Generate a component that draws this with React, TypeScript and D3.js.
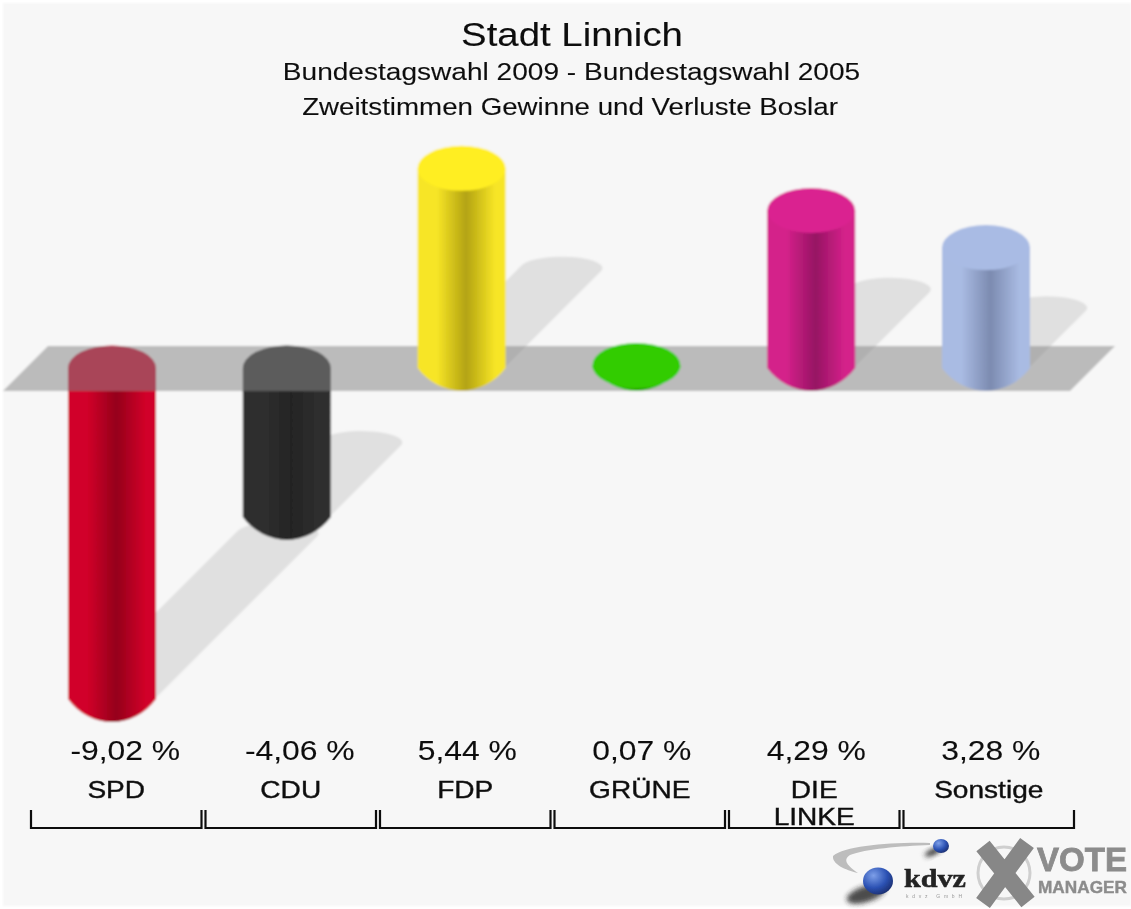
import React from 'react'
import * as d3 from 'd3'

const parties = ['SPD', 'CDU', 'FDP', 'GRÜNE', 'DIE LINKE', 'Sonstige']
const values = [-9.02, -4.06, 5.44, 0.07, 4.29, 3.28]
const valueLabels = ['-9,02 %', '-4,06 %', '5,44 %', '0,07 %', '4,29 %', '3,28 %']
const edgeColors = ['#d10029', '#2f2f2f', '#f7e526', '#33cc00', '#d4218a', '#a9bbe3']
const darkColors = ['#95001b', '#242424', '#b3a312', '#2ba800', '#961463', '#7c8bb0']
const capColors = ['#d10029', '#2f2f2f', '#ffee22', '#33cc00', '#da2490', '#a9bbe4']

const width = 1131
const height = 909
const rx = 44
const ry = 22.5
const font = '"Liberation Sans", Arial, sans-serif'

const band = d3.scaleBand<string>().domain(parties).range([29, 1076])
const barX = d3.scalePoint<string>().domain(parties).range([112, 986])
const y = d3.scaleLinear().domain([0, 1]).range([368, 331.3])
const plateTop = 346
const plateBottom = 391
const plateSkew = 45
const labelX = (p: string) => (band(p) as number) + band.bandwidth() / 2

// the reference squeezes its text vertically, so widen it instead
const Wide = ({ x, yy, size, sx = 1.17, bold, children }: any) => (
  <text
    transform={`translate(${x},${yy}) scale(${sx},1)`}
    fontSize={size}
    stroke="#111"
    strokeWidth={bold ? 0.4 : 0.1}
  >
    {children}
  </text>
)

// shadow falls up and to the right, half as long as the bar
const shadowPath = (x: number, v: number) => {
  const end = y(v)
  const base = Math.max(end, y(0))
  const h = Math.abs(end - y(0))
  const sx = 41
  const sy = 11.5
  const t = Math.atan(sy / sx)
  const px = sx * Math.cos(t)
  const py = sy * Math.sin(t)
  const c = [x + h / 2, base - h / 2]
  return `M${x + px},${base + py}L${c[0] + px},${c[1] + py}A${sx},${sy} 0 1 0 ${c[0] - px},${c[1] - py}L${x - px},${base - py}A${sx},${sy} 0 1 0 ${x + px},${base + py}Z`
}

const Bar = ({ i }: { i: number }) => {
  const p = parties[i]
  const x = barX(p) as number
  const v = values[i]
  const end = y(v)
  // lower edge is a flatter arc than the cap, it meets the sides at a corner
  const under = `A56,60 0 0 1 ${x - rx}`
  if (v < 0) {
    return (
      <g>
        <path
          d={`M${x - rx},${y(0)}A${rx},${ry} 0 0 1 ${x + rx},${y(0)}V${plateBottom + 1}H${x - rx}Z`}
          fill={capColors[i]}
        />
        <path
          d={`M${x - rx},${plateBottom}H${x + rx}V${end}${under},${end}Z`}
          fill={`url(#grad${i})`}
        />
      </g>
    )
  }
  return (
    <g>
      <path
        d={`M${x - rx},${end}H${x + rx}V${y(0)}${under},${y(0)}Z`}
        fill={`url(#grad${i})`}
      />
      <ellipse cx={x} cy={end} rx={rx} ry={ry} fill={capColors[i]} />
    </g>
  )
}

const Logos = () => (
  <g>
    <path d="M930,843C890,842 845,846 833,856C832,864 845,870 858,873C848,866 842,860 850,855C865,849 900,846 930,845Z" fill="#bdbdbd" />
    <ellipse cx="866" cy="894" rx="20" ry="8" fill="#222" opacity="0.8" filter="url(#softer)" transform="rotate(-18 866 894)" />
    <ellipse cx="878" cy="881" rx="15" ry="13.5" fill="url(#ball)" />
    <ellipse cx="933" cy="852" rx="9" ry="3" fill="#333" filter="url(#softer)" transform="rotate(-25 933 852)" />
    <ellipse cx="941" cy="846" rx="8" ry="7" fill="url(#ball)" />
    <text x="904" y="887" fontFamily='"Liberation Serif", serif' fontWeight="bold" fontSize="25" fill="#222" stroke="#222" strokeWidth="0.5" textLength="62" lengthAdjust="spacingAndGlyphs">kdvz</text>
    <text x="906" y="898" fontFamily={font} fontSize="5" fill="#999" textLength="56">kdvz GmbH</text>
    <circle cx="1004" cy="873" r="26" fill="none" stroke="#cfcfcf" strokeWidth="3" />
    <path d="M983,846L1028,902M1027,843L983,903" stroke="#878787" strokeWidth="17" fill="none" />
    <text x="1037" y="871" fontFamily={font} fontWeight="bold" fontSize="33" fill="#8c8c8c" stroke="#8c8c8c" strokeWidth="0.8" textLength="90" lengthAdjust="spacingAndGlyphs">VOTE</text>
    <text x="1038" y="893" fontFamily={font} fontWeight="bold" fontSize="17" fill="#8c8c8c" stroke="#8c8c8c" strokeWidth="0.4" textLength="89" lengthAdjust="spacingAndGlyphs">MANAGER</text>
  </g>
)

export default function App() {
  const order = values.map((_, i) => i)
  return (
    <svg width={width} height={height} style={{ position: 'absolute', left: 0, top: 0, background: '#fff' }}>
      <defs>
        {parties.map((p, i) => (
          <linearGradient id={`grad${i}`} key={p} x1="0" x2="1" y1="0" y2="0">
            <stop offset="0" stopColor={edgeColors[i]} />
            <stop offset="0.22" stopColor={edgeColors[i]} />
            <stop offset="0.55" stopColor={darkColors[i]} />
            <stop offset="0.88" stopColor={edgeColors[i]} />
            <stop offset="1" stopColor={edgeColors[i]} />
          </linearGradient>
        ))}
        <radialGradient id="ball" cx="0.35" cy="0.3" r="0.75">
          <stop offset="0" stopColor="#7d9fe8" />
          <stop offset="0.6" stopColor="#2c52b4" />
          <stop offset="1" stopColor="#1c2f70" />
        </radialGradient>
        <filter id="soft" x="0" y="0" width={width} height={height} filterUnits="userSpaceOnUse">
          <feGaussianBlur stdDeviation="0.85" />
        </filter>
        <filter id="softText" x="0" y="0" width={width} height={height} filterUnits="userSpaceOnUse">
          <feGaussianBlur stdDeviation="0.6" />
        </filter>
        <filter id="softer" x="-30%" y="-60%" width="160%" height="220%">
          <feGaussianBlur stdDeviation="2.5" />
        </filter>
      </defs>
      <g filter="url(#soft)">
        <rect x={3} y={3} width={width - 3} height={height - 6} fill="#f7f7f7" />
        {order.map((i) => (
          <path key={i} d={shadowPath(barX(parties[i]) as number, values[i])} fill="#e0e0e0" />
        ))}
        {order.filter((i) => values[i] < 0).map((i) => <Bar key={i} i={i} />)}
        <path
          d={`M${3 + plateSkew},${plateTop}H1115L${1115 - plateSkew},${plateBottom}H3Z`}
          fill="#848484"
          opacity={0.52}
        />
        {order.filter((i) => values[i] >= 0).map((i) => <Bar key={i} i={i} />)}
      </g>

      <g filter="url(#softText)">
        <g fontFamily={font} textAnchor="middle" fill="#111">
          <Wide x={572} yy={46} size={33} sx={1.163}>Stadt Linnich</Wide>
          <Wide x={571.5} yy={80} size={24}>Bundestagswahl 2009 - Bundestagswahl 2005</Wide>
          <Wide x={570} yy={115} size={24} sx={1.155}>Zweitstimmen Gewinne und Verluste Boslar</Wide>
          {parties.map((p, i) => {
            const c = labelX(p)
            const lines = p.split(' ')
            return (
              <g key={p}>
                <Wide x={c + (values[i] < 0 ? 9 : 2)} yy={760} size={27} sx={1.18}>{valueLabels[i]}</Wide>
                {lines.map((l, k) => (
                  <Wide key={l} x={c} yy={798 + k * 27} size={24} sx={1.17} bold>{l}</Wide>
                ))}
              </g>
            )
          })}
        </g>

        <g fill="none" stroke="#111" strokeWidth={2.2}>
          {parties.map((p) => {
            const x0 = (band(p) as number) + 2
            const x1 = x0 + band.bandwidth() - 4
            return <path key={p} d={`M${x0},810V828H${x1}V810`} />
          })}
        </g>
        <Logos />
      </g>
    </svg>
  )
}
